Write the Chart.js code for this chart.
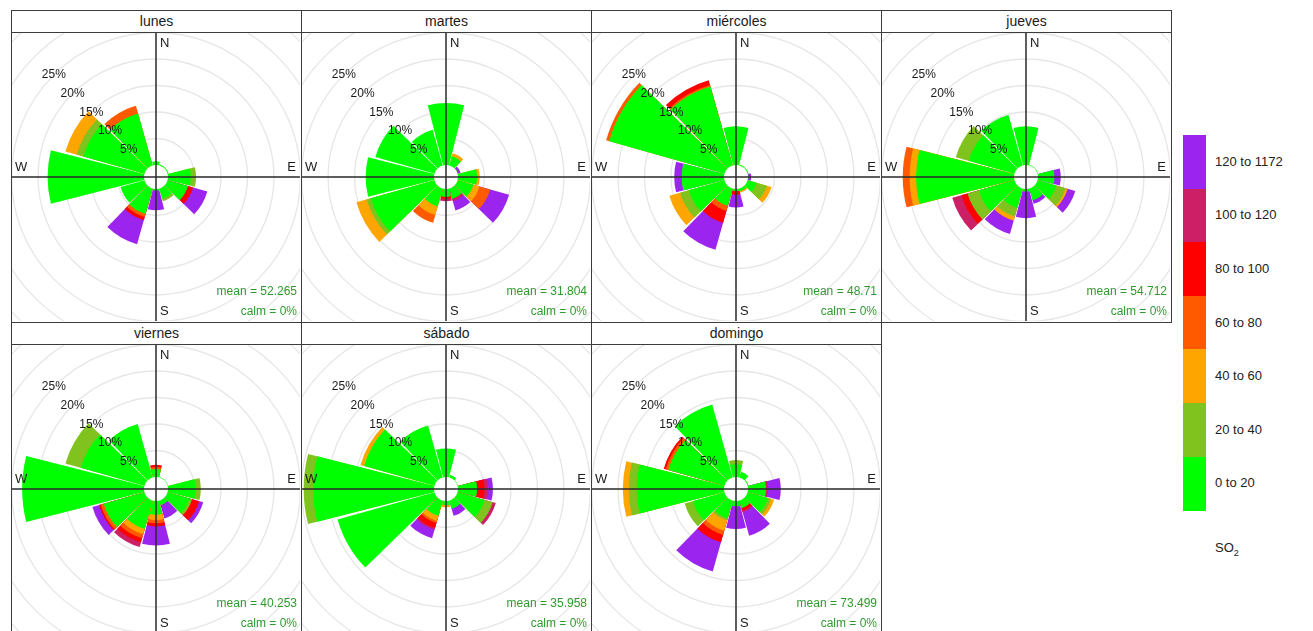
<!DOCTYPE html>
<html>
<head>
<meta charset="utf-8">
<script src="https://cdn.jsdelivr.net/npm/chart.js@4.4.0/dist/chart.umd.min.js"></script>
<style>
body{margin:0;width:1313px;height:631px;overflow:hidden;background:#fff;font-family:"Liberation Sans",Arial,sans-serif;position:relative}
.panel{position:absolute;width:291px;height:313px;box-sizing:border-box;border:1.5px solid #3c3c3c;overflow:hidden;background:#fff}
.strip{height:20.5px;border-bottom:1.5px solid #3c3c3c;text-align:center;font-size:14px;line-height:21px;color:#1a1a1a}
.plot{position:absolute;left:0;top:22px;width:288px;height:288px;overflow:hidden}
.plot canvas{position:absolute;left:-76px;top:-76px}
.lgbox{position:absolute;left:1183px;width:23px}
.lglab{position:absolute;left:1215px;font-size:13px;color:#222;line-height:16px}
</style>
</head>
<body>
<script>
// 12 wind sectors: 0, 30, 60, ... 330 degrees (N clockwise)
var binLabels = ['0 to 20', '20 to 40', '40 to 60', '60 to 80', '80 to 100', '100 to 120', '120 to 1172'];
var binColors = ['#00ff00', '#80c31e', '#ffa500', '#ff5a00', '#ff0000', '#cc1f66', '#9b24ee'];
var days = ['lunes', 'martes', 'miércoles', 'jueves', 'viernes', 'sábado', 'domingo'];
var means = ['52.265', '31.804', '48.71', '54.712', '40.253', '35.958', '73.499'];
var calms = ['0%', '0%', '0%', '0%', '0%', '0%', '0%'];
var ringLabels = [5, 10, 15, 20, 25];

// frequency (%) per concentration bin, one row per bin, 12 sectors each
var lunes = [
  [0.7, 0.2, 0.2, 4.3, 4.0, 2.0, 0.3, 5.0, 4.7, 18.2, 12.0, 10.2],
  [0, 0, 0, 1.0, 0, 0.5, 0, 0, 0, 0, 1.3, 0],
  [0, 0, 0, 0, 0, 0, 0, 0, 0, 0, 2.2, 0],
  [0, 0, 0, 0, 0, 0, 0, 0.6, 0, 0, 0, 1.5],
  [0, 0, 0, 0, 1.0, 0, 0, 0.6, 0, 0, 0, 0],
  [0, 0, 0, 0, 0, 0, 0, 0, 0, 0, 0, 0],
  [0, 0, 0, 0, 2.8, 0, 3.7, 4.7, 0, 0, 0, 0]
];
var martes = [
  [11.7, 1.8, 0.1, 3.6, 3.1, 2.0, 1.5, 3.5, 12.5, 12.9, 11.6, 7.0],
  [0, 0, 0, 0, 0, 0, 0, 0, 0.8, 0, 0, 0],
  [0, 0.6, 0, 0.5, 1.2, 0, 0, 1.7, 2.0, 0, 0, 0],
  [0, 0, 0, 0, 2.1, 0, 0, 1.5, 0, 0, 0, 0],
  [0, 0, 0, 0, 0, 0, 0.4, 0, 0, 0, 0, 0],
  [0, 0, 0, 0, 0, 0.5, 0.4, 0, 0, 0, 0, 0],
  [0, 0, 0.5, 0, 3.7, 1.8, 0, 0, 0, 0, 0, 0]
];
var miercoles = [
  [7.3, 0.2, 0.2, 0.1, 1.8, 0.5, 0.4, 3.4, 7.0, 8.0, 22.6, 15.5],
  [0, 0, 0, 0, 2.0, 0, 0, 0, 1.7, 0, 0, 0],
  [0, 0, 0, 0, 0.9, 0.3, 0, 0, 2.1, 0, 0, 0],
  [0, 0, 0, 0, 0, 0, 0, 1.0, 0, 0, 0.6, 0.3],
  [0, 0, 0, 0, 0, 0, 0.7, 2.3, 0, 0, 0, 0.9],
  [0, 0, 0, 0, 0, 0, 0, 0, 0, 0, 0, 0],
  [0, 0, 0, 0.5, 0, 0, 2.4, 5.3, 0, 1.4, 0, 0]
];
var jueves = [
  [7.3, 0.1, 0.1, 3.1, 3.7, 2.3, 0.5, 3.8, 7.0, 18.5, 9.0, 9.9],
  [0, 0, 0, 0, 1.8, 0, 0, 1.7, 2.2, 0, 2.5, 0],
  [0, 0, 0, 0, 0.4, 0, 0, 0.8, 0, 1.2, 0, 0],
  [0, 0, 0, 0, 0, 0, 0, 0, 0, 1.3, 0, 0],
  [0, 0, 0, 0, 0, 0, 0, 0, 1.2, 0, 0, 0],
  [0, 0, 0, 0, 0, 0, 0, 0, 1.8, 0, 0, 0],
  [0, 0, 0, 1.2, 1.5, 0.7, 5.0, 2.6, 0, 0, 0, 0]
];
var viernes = [
  [1.5, 0.1, 0.1, 5.2, 4.3, 0.9, 2.6, 5.6, 8.0, 23.0, 12.5, 10.5],
  [0, 0, 0, 1.0, 0.5, 0, 0, 0, 0, 0, 3.0, 0],
  [0, 0, 0, 0, 0, 0, 1.0, 1.0, 0, 0, 0, 0],
  [0.4, 0, 0, 0, 0, 0, 0.6, 0.8, 0.6, 0, 0, 0],
  [0.4, 0, 0, 0, 1.4, 0, 0.6, 0.8, 0.3, 0, 0, 0],
  [0, 0, 0, 0, 0, 0, 0, 0.9, 0, 0, 0, 0],
  [0, 0, 0, 0, 0.8, 2.6, 3.6, 0, 1.3, 0, 0, 0]
];
var sabado = [
  [5.4, 0.5, 0.1, 3.6, 5.3, 1.6, 0.8, 3.0, 19.0, 22.8, 13.8, 10.2],
  [0, 0, 0, 0, 1.6, 0, 0, 0, 0, 1.8, 0, 0],
  [0, 0, 0, 0, 0, 0, 0.4, 1.0, 0, 0, 0.7, 0],
  [0, 0, 0, 0, 0, 0, 0, 0.4, 0, 0, 0, 0],
  [0, 0, 0, 1.4, 0, 0, 0, 1.0, 0, 0, 0, 0],
  [0, 0, 0, 0.6, 0.6, 0, 0, 0.3, 0, 0, 0, 0],
  [0, 0, 0, 1.0, 0, 1.4, 0, 1.7, 0, 0, 0, 0]
];
var domingo = [
  [2.4, 1.1, 0.2, 3.4, 4.0, 1.5, 1.0, 3.5, 6.2, 16.5, 11.0, 14.3],
  [0.8, 0, 0, 0, 0.6, 0, 0, 0.4, 1.6, 1.5, 0, 0],
  [0, 0, 0, 0, 0.6, 0, 0, 2.0, 0, 1.1, 0, 0],
  [0, 0, 0, 0, 0, 0, 0, 0.8, 0, 0, 0.5, 0],
  [0, 0, 0, 0, 0, 0.5, 0, 1.5, 0, 0, 0.4, 0],
  [0, 0, 0, 0.4, 0, 0.3, 0, 0, 0, 0, 0, 0],
  [0, 0, 0, 2.4, 0, 4.6, 4.3, 5.7, 0, 0, 0, 0]
];
var dayData = [lunes, martes, miercoles, jueves, viernes, sabado, domingo];

var SECTOR = 28.5, GAP = 1.5;

var roseDecor = {
  id: 'roseDecor',
  afterDatasetsDraw: function (chart, args, opts) {
    var s = chart.scales.r, ctx = chart.ctx;
    var cx = s.xCenter, cy = s.yCenter;
    ctx.save();
    ctx.fillStyle = '#fff';
    ctx.beginPath();
    ctx.arc(cx, cy, s.getDistanceFromCenterForValue(0), 0, Math.PI * 2);
    ctx.fill();
    ctx.strokeStyle = '#2a2a2a';
    ctx.lineWidth = 1.5;
    ctx.beginPath();
    ctx.moveTo(cx, 0); ctx.lineTo(cx, chart.height);
    ctx.moveTo(0, cy); ctx.lineTo(chart.width, cy);
    ctx.stroke();
    ctx.font = '13px "Liberation Sans", Arial, sans-serif';
    ctx.fillStyle = '#1a1a1a';
    ctx.textBaseline = 'middle';
    ctx.textAlign = 'left';
    ctx.fillText('N', cx + 4, cy - 134);
    ctx.fillText('S', cx + 4, cy + 134);
    ctx.fillText('W', cx - 141, cy - 10);
    ctx.textAlign = 'right';
    ctx.fillText('E', cx + 140, cy - 10);
    ctx.font = '12px "Liberation Sans", Arial, sans-serif';
    ctx.textAlign = 'center';
    ringLabels.forEach(function (p) {
      var r = s.getDistanceFromCenterForValue(p);
      ctx.fillText(p + '%', cx - r * Math.SQRT1_2, cy - r * Math.SQRT1_2);
    });
    ctx.fillStyle = '#2f9a2f';
    ctx.textAlign = 'right';
    ctx.fillText('mean = ' + opts.mean, cx + 141, cy + 115);
    ctx.fillText('calm = ' + opts.calm, cx + 141, cy + 135);
    ctx.restore();
  }
};

function buildDatasets(bins) {
  var run = [0, 0, 0, 0, 0, 0, 0, 0, 0, 0, 0, 0];
  return bins.map(function (b, k) {
    run = run.map(function (v, i) { return v + b[i]; });
    var data = [], colors = [];
    run.forEach(function (v, i) {
      data.push(v); colors.push(b[i] > 0 ? binColors[k] : 'rgba(0,0,0,0)');
      data.push(0); colors.push('rgba(0,0,0,0)');
    });
    return {
      label: binLabels[k],
      data: data,
      backgroundColor: colors,
      borderWidth: 0,
      angle: function (c) { return c.dataIndex % 2 === 0 ? SECTOR : GAP; }
    };
  });
}

days.forEach(function (day, d) {
  var col = d < 4 ? d : d - 4, row = d < 4 ? 0 : 1;
  var panel = document.createElement('div');
  panel.className = 'panel';
  panel.style.left = (11 + col * 290) + 'px';
  panel.style.top = (10 + row * 312) + 'px';
  var strip = document.createElement('div');
  strip.className = 'strip';
  strip.textContent = day;
  var plot = document.createElement('div');
  plot.className = 'plot';
  var cv = document.createElement('canvas');
  cv.width = 440; cv.height = 440;
  plot.appendChild(cv);
  panel.appendChild(strip);
  panel.appendChild(plot);
  document.body.appendChild(panel);

  var labels = [];
  for (var i = 0; i < 24; i++) labels.push(i % 2 === 0 ? String(i * 15) : '');

  new Chart(cv, {
    type: 'polarArea',
    data: { labels: labels, datasets: buildDatasets(dayData[d]) },
    options: {
      responsive: false,
      animation: false,
      events: [],
      layout: { padding: 0 },
      scales: {
        r: {
          min: -2.26,
          max: 39.25,
          startAngle: -SECTOR / 2,
          ticks: { display: false, stepSize: 5 },
          angleLines: { display: false },
          pointLabels: { display: false },
          grid: {
            lineWidth: 1.3,
            color: function (c) {
              var v = c.tick ? c.tick.value : 0;
              return (v > 0 && v <= 35 && Math.abs(v % 5) < 1e-6) ? '#e6e6e6' : 'rgba(0,0,0,0)';
            }
          }
        }
      },
      plugins: {
        legend: { display: false },
        tooltip: { enabled: false },
        roseDecor: { mean: means[d], calm: calms[d] }
      }
    },
    plugins: [roseDecor]
  });
});

// colour key
var top0 = 135, bh = 53.6;
binLabels.forEach(function (lab, k) {
  var idx = binLabels.length - 1 - k;
  var box = document.createElement('div');
  box.className = 'lgbox';
  box.style.top = (top0 + k * bh) + 'px';
  box.style.height = (bh + 0.5) + 'px';
  box.style.background = binColors[idx];
  document.body.appendChild(box);
  var t = document.createElement('div');
  t.className = 'lglab';
  t.style.top = (top0 + k * bh + bh / 2 - 8) + 'px';
  t.textContent = binLabels[idx];
  document.body.appendChild(t);
});
var so2 = document.createElement('div');
so2.className = 'lglab';
so2.style.top = (top0 + 7 * bh + 30) + 'px';
so2.innerHTML = 'SO<sub style="font-size:9px">2</sub>';
document.body.appendChild(so2);
</script>
</body>
</html>
